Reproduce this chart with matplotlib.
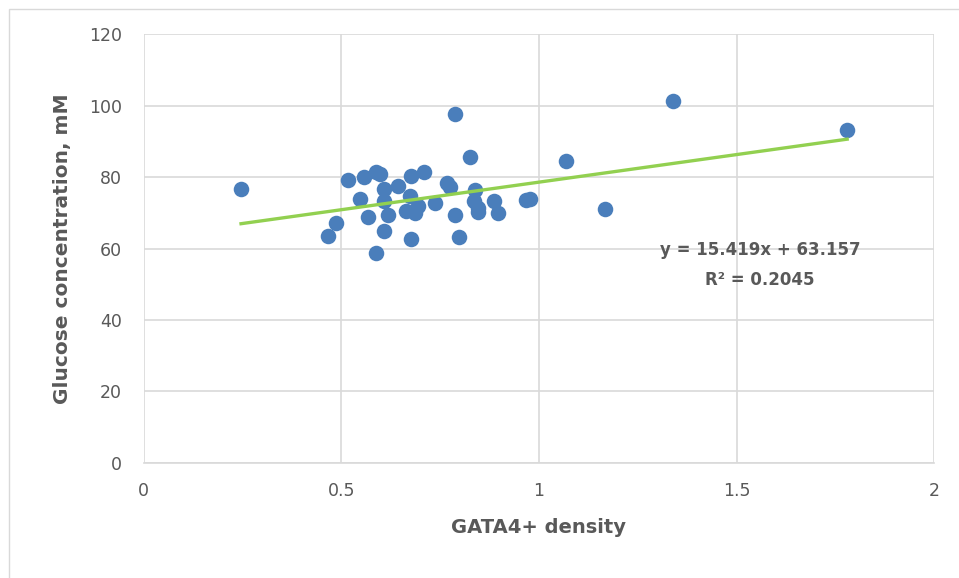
import numpy as np
import matplotlib
matplotlib.use("Agg")
import matplotlib.pyplot as plt
from matplotlib.patches import Rectangle

# GATA4+ density vs glucose concentration
gata4 = [0.246, 0.466, 0.486, 0.516, 0.547, 0.557, 0.567, 0.587, 0.587, 0.597,
         0.608, 0.608, 0.608, 0.618, 0.643, 0.663, 0.673, 0.676, 0.676, 0.686,
         0.694, 0.709, 0.737, 0.767, 0.775, 0.787, 0.787, 0.797, 0.825, 0.838,
         0.835, 0.846, 0.846, 0.886, 0.896, 0.967, 0.977, 1.068, 1.167, 1.339,
         1.780]
glucose = [76.6, 63.5, 67.1, 79.2, 73.8, 80.0, 68.8, 58.7, 81.4, 80.8,
           76.6, 73.3, 64.9, 69.4, 77.5, 70.5, 74.7, 80.3, 62.7, 69.9,
           71.9, 81.4, 72.7, 78.3, 77.2, 97.6, 69.4, 63.2, 85.6, 76.4,
           73.3, 71.3, 70.2, 73.3, 69.9, 73.6, 73.8, 84.5, 71.0, 101.3,
           93.1]

slope = 15.419
intercept = 63.157
r2 = 0.2045

xticks = [0, 0.5, 1, 1.5, 2]
yticks = [0, 20, 40, 60, 80, 100, 120]

grey = "#595959"

fig = plt.figure(figsize=(9.59, 5.78), dpi=100)
ax = fig.add_axes([0.150, 0.199, 0.824, 0.742])

# outer chart border (only left and top show in the crop)
fig.patches.append(Rectangle((9 / 959, -0.1), 1.2, 1.1 - 9 / 578,
                             transform=fig.transFigure, fill=False,
                             edgecolor="#D9D9D9", linewidth=1.0))

ax.scatter(gata4, glucose, s=125, color="#4A7EBB", zorder=3, linewidths=0)

# linear trendline
xl = np.array([min(gata4), max(gata4)])
ax.plot(xl, slope * xl + intercept, color="#92D050", linewidth=2.4, zorder=4)

ax.set_xlim(0, 2)
ax.set_ylim(0, 120)
ax.set_xticks(xticks)
ax.set_xticklabels([str(t) for t in xticks])
ax.set_yticks(yticks)
ax.grid(True, color="#D9D9D9", linewidth=1.2, zorder=0)
ax.set_axisbelow(True)
for s in ["top", "right", "left"]:
    ax.spines[s].set_visible(False)
ax.spines["bottom"].set_color("#D9D9D9")
ax.spines["bottom"].set_linewidth(1.2)
ax.tick_params(length=0, labelsize=12.5, labelcolor=grey)
ax.tick_params(axis="x", pad=14)
ax.tick_params(axis="y", pad=16)

ax.set_xlabel("GATA4+ density", fontsize=14, fontweight="bold", color=grey,
              labelpad=13)
ax.set_ylabel("Glucose concentration, mM", fontsize=14.5, fontweight="bold",
              color=grey, labelpad=12)

ax.text(1.56, 59.5, "y = 15.419x + 63.157", fontsize=12, fontweight="bold",
        color=grey, ha="center", va="center")
ax.text(1.56, 51.2, "R\u00b2 = 0.2045", fontsize=12, fontweight="bold",
        color=grey, ha="center", va="center")

fig.savefig("out.png", dpi=100)
